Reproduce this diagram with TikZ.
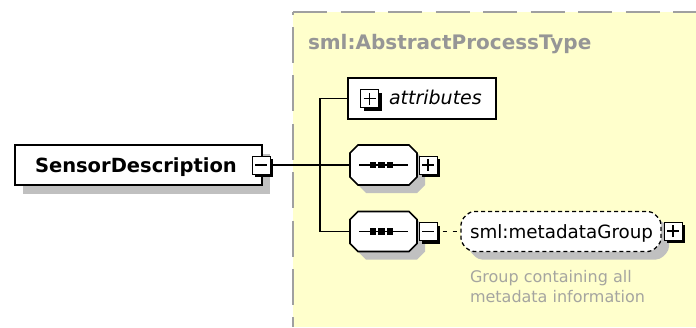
\documentclass[tikz,border=0pt]{standalone}
\usepackage{fontspec}
\setmainfont{DejaVu Sans}
\usetikzlibrary{shadows}

\definecolor{panelfill}{RGB}{255,255,204}
\definecolor{panelrule}{RGB}{160,160,160}
\definecolor{shade}{RGB}{192,192,192}
\definecolor{titlegray}{RGB}{150,150,150}
\definecolor{notegray}{RGB}{165,165,160}

\tikzset{
  % octagon with cut corners: x1, y1, x2, y2, chamfer
  oct/.style n args={5}{insert path={({#1+#5},#2) -- ({#3-#5},#2) -- (#3,{#2+#5}) -- (#3,{#4-#5})
      -- ({#3-#5},#4) -- ({#1+#5},#4) -- (#1,{#4-#5}) -- (#1,{#2+#5}) -- cycle}},
  wire/.style={draw=black, line width=1.6pt},
  boxframe/.style={draw=black, line width=1.6pt, fill=white, inner sep=0pt, outer sep=0pt},
  slot/.style={inner sep=0pt, outer sep=0pt},
  txt/.style={anchor=base west, inner sep=0pt, outer sep=0pt},
  pmbox/.style={draw=black, line width=1pt, fill=white, minimum size=18pt, inner sep=0pt, outer sep=0pt,
      drop shadow={shadow xshift=3pt, shadow yshift=-3pt, fill=black, opacity=1}},
  pmminus/.style={pmbox, path picture={
      \draw[line width=1.6pt] ([xshift=-6pt]path picture bounding box.center) -- ([xshift=6pt]path picture bounding box.center);}},
  pmplus/.style={pmbox, path picture={
      \draw[line width=1.6pt] ([xshift=-6pt]path picture bounding box.center) -- ([xshift=6pt]path picture bounding box.center)
                              ([yshift=-6pt]path picture bounding box.center) -- ([yshift=6pt]path picture bounding box.center);}},
  seqicon/.pic={
      \draw[line width=1.7pt] (-24.5,0) -- (24.5,0);
      \foreach \dx in {-10.5,-2,6.5} \fill ({\dx-3.2},-3.2) rectangle ({\dx+3.2},3.2);}
}

\begin{document}
\begin{tikzpicture}[x=1pt, y=-1pt]
\useasboundingbox (0,0) rectangle (696,327);

% complex type panel
\fill[panelfill] (293,12) rectangle (696,327);
\draw[panelrule, line width=2.2pt, dash pattern=on 34pt off 13.5pt] (293,12) -- (696,12);
\draw[panelrule, line width=2.2pt, dash pattern=on 36pt off 12.4pt, dash phase=33.4pt] (293,12) -- (293,327);

% element box
\node[boxframe, minimum width=247pt, minimum height=40pt,
      drop shadow={shadow xshift=8pt, shadow yshift=-9pt, fill=shade, opacity=1}] (sd) at (138.5,165) {};

% attributes box
\node[boxframe, minimum width=148pt, minimum height=41pt] (attr) at (422,98.5) {};

% sequence compositors
\path[fill=shade, shift={(8,8)}, oct={350}{145}{417}{185}{8}];
\path[draw=black, line width=1.6pt, fill=white, oct={350}{145}{417}{185}{8}];
\node[slot, minimum width=67pt, minimum height=40pt] (s1) at (383.5,165) {};
\pic at (s1) {seqicon};

\path[fill=shade, shift={(8,8)}, oct={350}{211.5}{417}{251.5}{8}];
\path[draw=black, line width=1.6pt, fill=white, oct={350}{211.5}{417}{251.5}{8}];
\node[slot, minimum width=67pt, minimum height=40pt] (s2) at (383.5,231.5) {};
\pic at (s2) {seqicon};

% group reference
\path[fill=shade, shift={(8,8)}, rounded corners=4pt, oct={461}{211.5}{661}{251.5}{9}];
\path[draw=black, line width=1.3pt, dash pattern=on 4pt off 3pt, fill=white, rounded corners=4pt,
      oct={461}{211.5}{661}{251.5}{9}];
\node[slot, minimum width=200pt, minimum height=40pt] (grp) at (561,231.5) {};

% connectors
\coordinate (trunk) at (320,165);
\draw[wire] (sd.east) -- (s1.west);
\draw[wire] (attr.west) -| (trunk) |- (s2.west);

% expand / collapse buttons
\node[pmminus] (sdm) at (261,165) {};
\node[pmplus] (attrp) at (369.5,98.5) {};
\node[pmplus] (s1p) at (428,165) {};
\node[pmminus] (s2m) at (428,231.5) {};
\node[pmplus] (grpp) at (673,231) {};

\draw[line width=1.3pt, dash pattern=on 4.5pt off 5.5pt, dash phase=4.5pt] (s2m.east) -- (grp.west);

% texts
\node[txt, text=titlegray, font=\bfseries\fontsize{20}{24}\selectfont] (title) at (308,49) {sml:AbstractProcessType};
\node[txt, font=\bfseries\fontsize{19.5}{23}\selectfont] (sdtext) at (35,172) {SensorDescription};
\node[txt, font=\itshape\fontsize{19}{23}\selectfont] (attrtext) at (389,104) {attributes};
\node[txt, font=\fontsize{18.3}{22}\selectfont] (grptext) at (470,238) {sml:metadataGroup};
\node[txt, text=notegray, font=\fontsize{16}{20}\selectfont] (note1) at (470,282) {Group containing all};
\node[txt, text=notegray, font=\fontsize{16}{20}\selectfont] (note2) at (470,302) {metadata information};
\end{tikzpicture}
\end{document}
